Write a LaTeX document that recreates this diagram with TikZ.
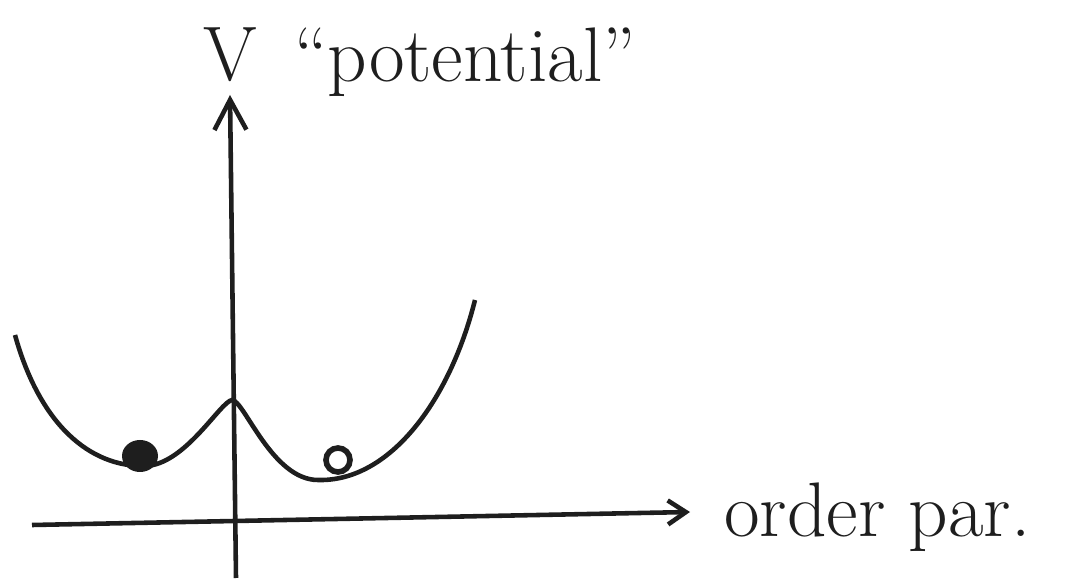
\documentclass[tikz,border=0pt]{standalone}
\usepackage{tikz}
\usetikzlibrary{arrows.meta}
\definecolor{inkGray}{HTML}{1E1E1E}

\begin{document}
\begin{tikzpicture}[x=0.010cm,y=-0.010cm,line width=1.3pt,draw=inkGray,
    axisline/.style={inkGray,line width=1.3pt},
    label/.style={inkGray,font=\fontsize{22}{24}\selectfont,inner sep=0pt}]
  \useasboundingbox (0,0) rectangle (1075,582);
  \coordinate (vbot) at (236,578);
  \coordinate (vtop) at (230,95);
  \coordinate (hleft) at (32,525);
  \coordinate (hright) at (690,512);
  \draw[axisline,-{Straight Barb[length=3mm,width=3.2mm]}] (vbot) -- (vtop);
  \draw[axisline,-{Straight Barb[length=1.8mm,width=2.4mm]}] (hleft) -- (hright);
  \node[label] (vlab) at (230,55) {V};
  \node[label] (potlab) at (465,62) {``potential''};
  \node[label,anchor=west] (ordlab) at (722,517) {order par.};
  % the double well
  \draw[inkGray] (15,335) .. controls (40,425) and (90,467) .. (145,466)
    .. controls (185,465) and (220,402) .. (232,400)
    .. controls (244,400) and (272,480) .. (318,480)
    .. controls (390,482) and (450,400) .. (475,300);
  \fill[inkGray] (140,456) ellipse [x radius=18,y radius=16];
  \draw[inkGray,line width=1.6pt] (338,460) circle [radius=12];
\end{tikzpicture}
\end{document}
